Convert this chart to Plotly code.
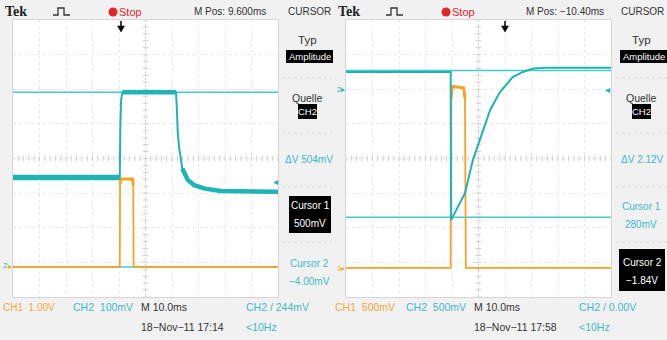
import numpy as np
import plotly.graph_objects as go

W, H = 667, 340

# ---------------- data: left screen ----------------
L_MPOS_MS = 9.6          # M Pos
L_CH1_VDIV = 1.0         # CH1 1.00V
L_CH2_VDIV = 0.1         # CH2 100mV
L_CH1_POS = -3.13        # ground marker position (div)
L_CH2_POS = -3.09

l_ch1_t = [-40.4, -0.1, 0.0, 0.3, 4.7, 5.0, 5.1, 59.6]
l_ch1_v = [0.0, 0.0, 2.40, 2.54, 2.54, 2.35, 0.0, 0.0]
l_ch2_t = [-40.4, -0.1, 0.1, 0.4, 0.9, 21.1, 21.4, 21.8, 22.3, 23.5, 25.5, 28.0, 32.0, 38.0, 59.6]
l_ch2_v = [0.254, 0.254, 0.40, 0.48, 0.50, 0.50, 0.46, 0.38, 0.34, 0.28, 0.248, 0.232, 0.222, 0.215, 0.213]
l_cursor_v = [0.500, -0.004]
l_trig_v = 0.244

# ---------------- data: right screen ----------------
R_MPOS_MS = -10.4
R_CH1_VDIV = 0.5
R_CH2_VDIV = 0.5
R_CH1_POS = -3.16
R_CH2_POS = 1.98

r_ch1_t = [-60.4, -20.9, -20.75, -20.3, -16.0, -15.5, -15.2, 39.6]
r_ch1_v = [0.0, 0.0, 2.45, 2.62, 2.60, 2.45, 0.0, 0.0]
r_ch2_t = [-60.4, -20.9, -20.75, -18.0, -15.5, -12.5, -9.8, -6.0, -2.3, 2.6, 6.4, 10.2, 15.0, 39.6]
r_ch2_v = [0.26, 0.26, -1.88, -1.68, -1.49, -1.01, -0.72, -0.29, -0.03, 0.19, 0.26, 0.31, 0.32, 0.32]
r_cursor_v = [0.28, -1.84]
r_trig_v = 0.0

# ---------------- styling ----------------
CYAN = "#1fb3b6"
CYAN_C = "#45c9cc"
CYAN_T = "#3bb9c9"
ORANGE = "#f4a324"
ORANGE_T = "#f2a93a"
RED = "#e3262a"
DARK = "#333333"
FONT = "Liberation Sans Narrow, Liberation Sans, Arial, sans-serif"
FS = 10


def px(x):
    return x / W


def py(y):
    return 1 - y / H


def div(vals, vdiv, pos):
    return [v / vdiv + pos for v in vals]


fig = go.Figure()

screens = [
    dict(xa="x", ya="y", mpos=L_MPOS_MS,
         ch1=(l_ch1_t, div(l_ch1_v, L_CH1_VDIV, L_CH1_POS)),
         ch2=(l_ch2_t, div(l_ch2_v, L_CH2_VDIV, L_CH2_POS)),
         cur=div(l_cursor_v, L_CH2_VDIV, L_CH2_POS),
         noisy=[(0, 2, 5.5), (4, 6, 4.5), (9, 15, 4.5)]),
    dict(xa="x2", ya="y2", mpos=R_MPOS_MS,
         ch1=(r_ch1_t, div(r_ch1_v, R_CH1_VDIV, R_CH1_POS)),
         ch2=(r_ch2_t, div(r_ch2_v, R_CH2_VDIV, R_CH2_POS)),
         cur=div(r_cursor_v, R_CH2_VDIV, R_CH2_POS),
         noisy=[]),
]

GRIDC = "#cfcfcf"
for s in screens:
    x0, x1 = s["mpos"] - 50, s["mpos"] + 50
    # minor ticks on centre lines
    mt = np.arange(x0, x1 + 0.01, 2.0)
    fig.add_trace(go.Scatter(x=mt, y=[0] * len(mt), mode="markers", xaxis=s["xa"], yaxis=s["ya"],
                             marker=dict(symbol="line-ns-open", size=4, color=GRIDC,
                                         line=dict(color=GRIDC, width=1)),
                             hoverinfo="skip", showlegend=False))
    my = np.arange(-4, 4.01, 0.2)
    fig.add_trace(go.Scatter(x=[s["mpos"]] * len(my), y=my, mode="markers", xaxis=s["xa"], yaxis=s["ya"],
                             marker=dict(symbol="line-ew-open", size=4, color=GRIDC,
                                         line=dict(color=GRIDC, width=1)),
                             hoverinfo="skip", showlegend=False))
    # cursors
    for c in s["cur"]:
        fig.add_trace(go.Scatter(x=[x0, x1], y=[c, c], mode="lines", xaxis=s["xa"], yaxis=s["ya"],
                                 line=dict(color=CYAN_C, width=1.5), hoverinfo="skip", showlegend=False))
    # CH1
    fig.add_trace(go.Scatter(x=s["ch1"][0], y=s["ch1"][1], mode="lines", xaxis=s["xa"], yaxis=s["ya"],
                             line=dict(color=ORANGE, width=1.8), hoverinfo="skip", showlegend=False))
    fig.add_trace(go.Scatter(x=s["ch1"][0][2:6], y=s["ch1"][1][2:6], mode="lines", xaxis=s["xa"], yaxis=s["ya"],
                             line=dict(color=ORANGE, width=3), hoverinfo="skip", showlegend=False))
    # CH2
    fig.add_trace(go.Scatter(x=s["ch2"][0], y=s["ch2"][1], mode="lines", xaxis=s["xa"], yaxis=s["ya"],
                             line=dict(color=CYAN, width=2), hoverinfo="skip", showlegend=False))
    for a, b, w in s["noisy"]:
        fig.add_trace(go.Scatter(x=s["ch2"][0][a:b], y=s["ch2"][1][a:b], mode="lines", xaxis=s["xa"], yaxis=s["ya"],
                                 line=dict(color=CYAN, width=w), hoverinfo="skip", showlegend=False))

axis_common = dict(showticklabels=False, zeroline=False, showgrid=True, gridcolor="#e6e6e6",
                   griddash="dot", gridwidth=1, showline=True, mirror=True, linecolor="#d6d6d6",
                   ticks="", fixedrange=True)

fig.update_layout(
    width=W, height=H, margin=dict(l=0, r=0, t=0, b=0),
    paper_bgcolor="#f1f1f1", plot_bgcolor="white", showlegend=False,
    xaxis=dict(domain=[px(13), px(278)], range=[L_MPOS_MS - 50, L_MPOS_MS + 50], dtick=10,
               tick0=L_MPOS_MS, anchor="y", **axis_common),
    yaxis=dict(domain=[py(297), py(20)], range=[-4, 4], dtick=1, anchor="x", **axis_common),
    xaxis2=dict(domain=[px(346), px(611)], range=[R_MPOS_MS - 50, R_MPOS_MS + 50], dtick=10,
                tick0=R_MPOS_MS, anchor="y2", **axis_common),
    yaxis2=dict(domain=[py(297), py(20)], range=[-4, 4], dtick=1, anchor="x2", **axis_common),
)

shapes = []
annos = []

# centre lines
for xa, ya, mpos in [("x", "y", L_MPOS_MS), ("x2", "y2", R_MPOS_MS)]:
    shapes.append(dict(type="line", xref=xa, yref=ya, x0=mpos - 50, x1=mpos + 50, y0=0, y1=0,
                       line=dict(color=GRIDC, width=1, dash="dot"), layer="below"))
    shapes.append(dict(type="line", xref=xa, yref=ya, x0=mpos, x1=mpos, y0=-4, y1=4,
                       line=dict(color=GRIDC, width=1, dash="dot"), layer="below"))


def txt(x, y, s, color=DARK, size=FS, anchor="left", bold=False, family=FONT, bg=None):
    annos.append(dict(x=px(x), y=py(y), xref="paper", yref="paper", text=(f"<b>{s}</b>" if bold else s),
                      showarrow=False, xanchor=anchor, yanchor="middle",
                      font=dict(family=family, size=size, color=color),
                      bgcolor=bg, borderpad=0))


def rect(x0, y0, x1, y1, color="black"):
    shapes.append(dict(type="rect", xref="paper", yref="paper", x0=px(x0), x1=px(x1), y0=py(y1), y1=py(y0),
                       fillcolor=color, line=dict(width=0), layer="above"))


def hline(x0, x1, y, color="#d8d8d8"):
    shapes.append(dict(type="line", xref="paper", yref="paper", x0=px(x0), x1=px(x1), y0=py(y), y1=py(y),
                       line=dict(color=color, width=1, dash="dot")))


def pulse_icon(x, y):
    pts = [(x, y + 7), (x + 5, y + 7), (x + 5, y), (x + 11, y), (x + 11, y + 7), (x + 17, y + 7)]
    p = "M " + " L ".join(f"{px(a):.5f},{py(b):.5f}" for a, b in pts)
    shapes.append(dict(type="path", xref="paper", yref="paper", path=p, line=dict(color=DARK, width=1.3)))


def trig_arrow(x):
    shapes.append(dict(type="line", xref="paper", yref="paper", x0=px(x), x1=px(x), y0=py(21), y1=py(27),
                       line=dict(color="black", width=1.5)))
    p = f"M {px(x-3.5):.5f},{py(26):.5f} L {px(x+3.5):.5f},{py(26):.5f} L {px(x):.5f},{py(32):.5f} Z"
    shapes.append(dict(type="path", xref="paper", yref="paper", path=p, fillcolor="black",
                       line=dict(color="black", width=0.5)))


def red_dot(x, y):
    shapes.append(dict(type="circle", xref="paper", yref="paper", x0=px(x - 4.5), x1=px(x + 4.5),
                       y0=py(y + 4.5), y1=py(y - 4.5), fillcolor=RED, line=dict(width=0)))


# ---------- top bars ----------
for ox in (0, 333):
    txt(ox + 4, 12, "Tek", size=14, bold=True, family="Liberation Serif, DejaVu Serif, serif", color="#222")
    pulse_icon(ox + 53, 8)
    red_dot(ox + 113, 12)
    txt(ox + 118, 12, "Stop", color=RED, size=FS + 1)
    txt(ox + 287, 12, "CURSOR", size=FS)

txt(193, 12, "M Pos: 9.600ms", size=FS)
txt(525, 12, "M Pos: −10.40ms", size=FS)
trig_arrow(121)
trig_arrow(505)

# ---------- side panels ----------
for cx in (307, 641):
    txt(cx, 40, "Typ", anchor="center", size=FS + 1.5)
    rect(cx - 21, 50, cx + 26, 63)
    txt(cx + 2.5, 56.5, "Amplitude", anchor="center", size=FS - 0.5, color="white")
    txt(cx, 98, "Quelle", anchor="center", size=FS + 0.5)
    rect(cx - 9, 104, cx + 10, 119)
    txt(cx + 0.5, 111.5, "CH2", anchor="center", size=FS - 0.5, color="white")
    for yy in (78, 133, 187, 242):
        hline(cx - 25, cx + 25, yy)

txt(309, 159, "ΔV 504mV", anchor="center", size=FS, color=CYAN_T)
rect(289, 196, 331, 233)
txt(310, 205, "Cursor 1", anchor="center", size=FS, color="white")
txt(310, 223, "500mV", anchor="center", size=FS, color="white")
txt(309, 263, "Cursor 2", anchor="center", size=FS, color=CYAN_T)
txt(309, 281, "−4.00mV", anchor="center", size=FS, color=CYAN_T)

txt(642, 159, "ΔV 2.12V", anchor="center", size=FS, color=CYAN_T)
txt(641, 207, "Cursor 1", anchor="center", size=FS, color=CYAN_T)
txt(641, 224, "280mV", anchor="center", size=FS, color=CYAN_T)
rect(619, 249, 665, 291)
txt(642, 262, "Cursor 2", anchor="center", size=FS, color="white")
txt(642, 280, "−1.84V", anchor="center", size=FS, color="white")

# ---------- markers ----------
txt(2, 265, "2", size=8, color=CYAN)
txt(7, 266, "▸", size=8, color=ORANGE)
txt(279, 181, "◂", size=10, color=CYAN, anchor="right")
txt(336, 90, "2▸", size=8, color=CYAN)
txt(336, 268, "1▸", size=8, color=ORANGE)
txt(611, 90, "◂", size=10, color=CYAN, anchor="right")

# ---------- bottom bars ----------
BS = 10.5
txt(2, 307, "CH1&nbsp;&nbsp;1.00V", color=ORANGE_T, size=BS - 0.5)
txt(72, 307, "CH2&nbsp;&nbsp;100mV", color=CYAN_T, size=BS)
txt(140, 307, "M 10.0ms", size=BS)
txt(245, 307, "CH2 / 244mV", color=CYAN_T, size=BS)
txt(140, 327, "18−Nov−11 17:14", size=BS)
txt(245, 327, "&lt;10Hz", color=CYAN_T, size=BS)

txt(334, 307, "CH1&nbsp;&nbsp;500mV", color=ORANGE_T, size=BS)
txt(405, 307, "CH2&nbsp;&nbsp;500mV", color=CYAN_T, size=BS)
txt(473, 307, "M 10.0ms", size=BS)
txt(578, 307, "CH2 / 0.00V", color=CYAN_T, size=BS)
txt(473, 327, "18−Nov−11 17:58", size=BS)
txt(578, 327, "&lt;10Hz", color=CYAN_T, size=BS)

fig.update_layout(shapes=shapes, annotations=annos)
fig.write_html("out.html", post_script="document.body.style.margin='0';",
               config={"displayModeBar": False})
